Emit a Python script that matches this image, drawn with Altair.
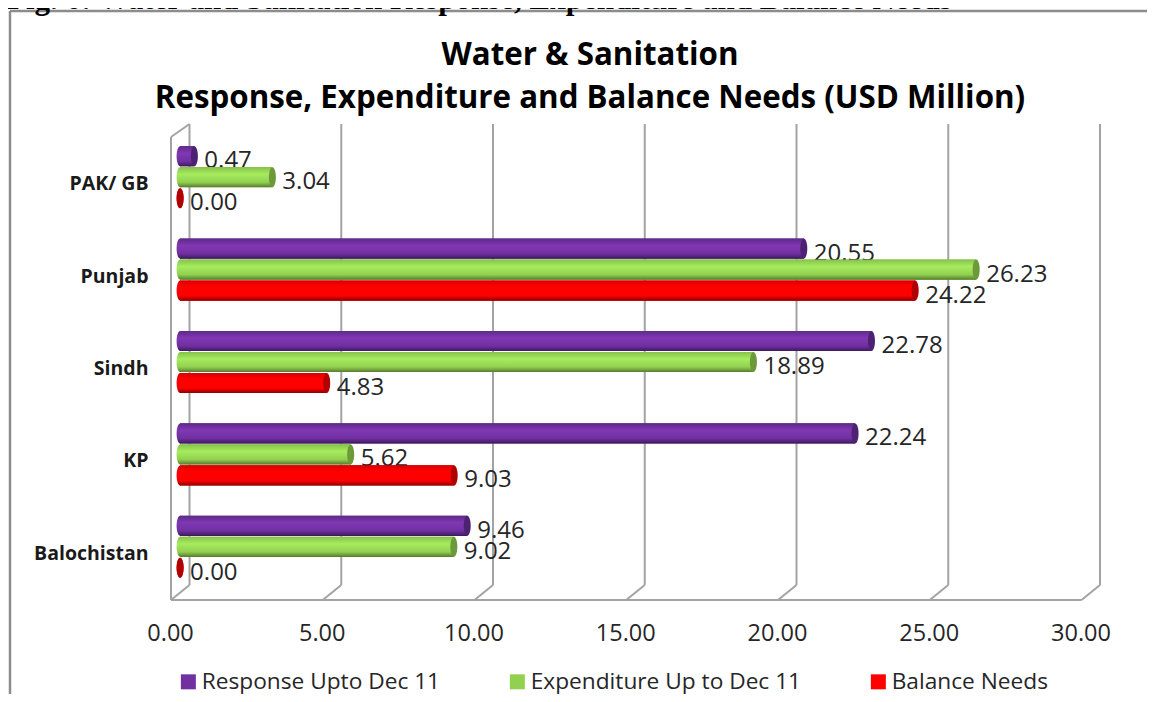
import altair as alt
import pandas as pd

CAPTION = "Fig. 6: Water and Sanitation Response, Expenditure and Balance Needs"
TITLE_1 = "Water & Sanitation"
TITLE_2 = "Response, Expenditure and Balance Needs (USD Million)"
CATS = ["PAK/ GB", "Punjab", "Sindh", "KP", "Balochistan"]
SERIES = ["Response Upto Dec 11", "Expenditure Up to Dec 11", "Balance Needs"]
RESPONSE = [0.47, 20.55, 22.78, 22.24, 9.46]
EXPENDITURE = [3.04, 26.23, 18.89, 5.62, 9.02]
BALANCE = [0.00, 24.22, 4.83, 9.03, 0.00]
TICKS = [0, 5, 10, 15, 20, 25, 30]
COLORS = ["#7030A0", "#92D050", "#FF0000"]
CAP_COLORS = ["#4E2272", "#6C9A3A", "#B00000"]
STOPS = [
    [("#5E2A88", 0), ("#8037B4", 0.35), ("#7030A0", 0.75), ("#3C1A5A", 1)],
    [("#86C04C", 0), ("#A6EC5E", 0.35), ("#92D050", 0.75), ("#567A30", 1)],
    [("#D80000", 0), ("#FF0000", 0.3), ("#FF0000", 0.75), ("#8E0000", 1)],
]

FONT = "Open Sans"
GRID = "#A3A3A3"
TEXT = "#262626"
DEPTH = 0.61      # depth of the 3-D wall, in axis units
BASE = 0.30       # bars stand in the middle of that depth
WALL_TOP, WALL_BACK, FLOOR, LEFT_TOP = 0, 461, 476, 13
ELLIPSE = "M -0.35 0 A 0.35 1 0 1 1 0.35 0 A 0.35 1 0 1 1 -0.35 0 Z"

df = pd.DataFrame(
    [
        {"cat": c, "series": s, "value": v, "base": BASE, "end": v + BASE}
        for s, vals in zip(SERIES, [RESPONSE, EXPENDITURE, BALANCE])
        for c, v in zip(CATS, vals)
    ]
)
ticks = pd.DataFrame({"v": TICKS, "back": [t + DEPTH for t in TICKS]})
zero = pd.DataFrame({"v": [0], "back": [DEPTH], "last": [30]})

xscale = alt.Scale(domain=[0, 30 + DEPTH], nice=False, zero=False)
x_end = alt.X(
    "end:Q",
    scale=xscale,
    title=None,
    axis=alt.Axis(
        values=TICKS, format=".2f", domain=False, ticks=False, grid=False,
        labelPadding=21, labelFontSize=23.5, labelFont=FONT, labelColor=TEXT,
        labelFlush=False, labelOverlap=False, labelOffset=-1,
    ),
)
y_cat = alt.Y(
    "cat:N",
    sort=CATS,
    title=None,
    scale=alt.Scale(type="band", domain=CATS, paddingInner=0, paddingOuter=0.0758),
    axis=alt.Axis(
        domain=False, ticks=False, grid=False, labelPadding=23, labelOffset=7,
        labelFontSize=19.5, labelFontWeight="bold", labelFont=FONT, labelColor="#1A1A1A",
    ),
)
y_off = alt.YOffset(
    "series:N",
    sort=SERIES,
    scale=alt.Scale(type="band", domain=SERIES, paddingInner=0.04, paddingOuter=0.72),
)
rule = dict(color=GRID, strokeWidth=2)
head = dict(align="center", baseline="middle", font=FONT, fontWeight="bold", fontSize=31.3, color="#000000")

layers = [
    # figure border, clipped caption and two-line heading
    alt.Chart(zero).mark_rule(color="#8C8C8C", strokeWidth=2.5).encode(
        x=alt.value(-161), y=alt.value(-113), y2=alt.value(580)
    ),
    alt.Chart(zero).mark_rule(color="#8C8C8C", strokeWidth=2.5).encode(
        x=alt.value(-161), x2=alt.value(976), y=alt.value(-113)
    ),
    alt.Chart(zero).mark_text(
        align="left", baseline="alphabetic", font="Liberation Serif",
        fontWeight="bold", fontSize=31, color="#000000",
    ).encode(x=alt.value(-164), y=alt.value(-115), text=alt.value(CAPTION)),
    alt.Chart(zero).mark_text(**head).encode(x=alt.value(419), y=alt.value(-68), text=alt.value(TITLE_1)),
    alt.Chart(zero).mark_text(**head).encode(x=alt.value(419), y=alt.value(-25), text=alt.value(TITLE_2)),
    # 3-D frame
    alt.Chart(ticks).mark_rule(**rule).encode(
        x=alt.X("back:Q", scale=xscale), y=alt.value(WALL_TOP), y2=alt.value(WALL_BACK)
    ),
    alt.Chart(ticks).mark_rule(**rule).encode(
        x=alt.X("v:Q", scale=xscale), x2="back:Q", y=alt.value(FLOOR), y2=alt.value(WALL_BACK)
    ),
    alt.Chart(zero).mark_rule(**rule).encode(
        x=alt.X("v:Q", scale=xscale), x2="last:Q", y=alt.value(FLOOR)
    ),
    alt.Chart(zero).mark_rule(**rule).encode(
        x=alt.X("v:Q", scale=xscale), y=alt.value(LEFT_TOP), y2=alt.value(FLOOR)
    ),
    alt.Chart(zero).mark_rule(**rule).encode(
        x=alt.X("v:Q", scale=xscale), x2="back:Q", y=alt.value(LEFT_TOP), y2=alt.value(WALL_TOP)
    ),
    # flat bars that carry the axes and the legend
    alt.Chart(df).mark_bar().encode(
        x=x_end,
        x2="base:Q",
        y=y_cat,
        yOffset=y_off,
        color=alt.Color(
            "series:N",
            scale=alt.Scale(domain=SERIES, range=COLORS),
            legend=alt.Legend(
                title=None, orient="none", legendX=6, legendY=546, direction="horizontal",
                columns=3, columnPadding=65, symbolType="square", symbolSize=225,
                labelFont=FONT, labelFontSize=22.7, labelColor=TEXT, labelOffset=2, labelLimit=400,
            ),
        ),
    ),
]

for name, stops, cap in zip(SERIES, STOPS, CAP_COLORS):
    grad = {
        "gradient": "linear", "x1": 0, "y1": 0, "x2": 0, "y2": 1,
        "stops": [{"color": c, "offset": o} for c, o in stops],
    }
    sub = alt.Chart(df).transform_filter(alt.datum.series == name)
    layers += [
        sub.mark_point(filled=True, opacity=1, shape=ELLIPSE, size=400, color=grad).encode(
            x=alt.X("base:Q", scale=xscale), y=y_cat, yOffset=y_off
        ),
        sub.mark_bar(color=grad).encode(x=x_end, x2="base:Q", y=y_cat, yOffset=y_off),
        sub.mark_point(filled=True, opacity=1, shape=ELLIPSE, size=400, color=cap).encode(
            x=x_end, y=y_cat, yOffset=y_off
        ),
        sub.mark_text(
            align="left", baseline="middle", dx=10, dy=5, font=FONT, fontSize=24, color=TEXT
        ).encode(
            x=x_end, y=y_cat, yOffset=y_off, text=alt.Text("value:Q", format=".2f")
        ),
    ]

chart = (
    alt.layer(*layers)
    .properties(
        width=929,
        height=476,
        padding={"left": 163, "top": 116, "right": 47, "bottom": 94},
        autosize=alt.AutoSizeParams(type="none"),
        background="white",
    )
    .configure_view(stroke="transparent", strokeWidth=0)
)

chart.save("out.html", embed_options={"renderer": "svg", "actions": False})
